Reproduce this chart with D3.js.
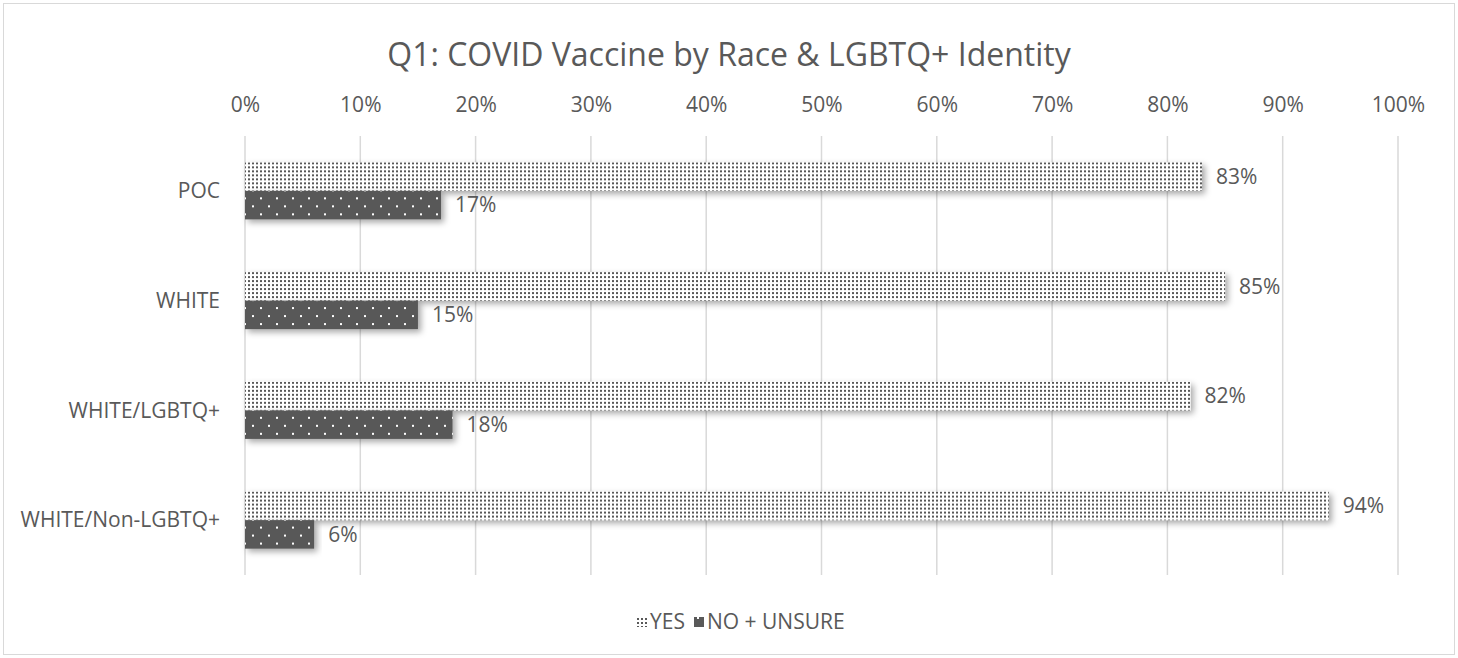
<!DOCTYPE html>
<html>
<head>
<meta charset="utf-8">
<script src="https://cdn.jsdelivr.net/npm/d3@7"></script>
<style>
  body { margin: 0; background: #fff; }
  text { font-family: "Open Sans", "Noto Sans", sans-serif; fill: #595959; }
</style>
</head>
<body>
<div id="chart"></div>
<script>
(function () {

// data
var categories = ["POC", "WHITE", "WHITE/LGBTQ+", "WHITE/Non-LGBTQ+"];
var seriesNames = ["YES", "NO + UNSURE"];
var yesValues = [0.83, 0.85, 0.82, 0.94];
var noValues = [0.17, 0.15, 0.18, 0.06];
var xTicks = [0, 0.1, 0.2, 0.3, 0.4, 0.5, 0.6, 0.7, 0.8, 0.9, 1.0];

var width = 1458, height = 658;

var svg = d3.select("#chart").append("svg")
    .attr("width", width)
    .attr("height", height);

var defs = svg.append("defs");

// dotted fill for YES
var pYes = defs.append("pattern")
    .attr("id", "patYes")
    .attr("patternUnits", "userSpaceOnUse")
    .attr("width", 4).attr("height", 4);
pYes.append("rect").attr("width", 4).attr("height", 4).attr("fill", "#fff");
pYes.append("rect").attr("width", 2).attr("height", 2).attr("fill", "#595959");

// dark fill with white dots for NO
var pNo = defs.append("pattern")
    .attr("id", "patNo")
    .attr("patternUnits", "userSpaceOnUse")
    .attr("width", 16).attr("height", 16);
pNo.append("rect").attr("width", 16).attr("height", 16).attr("fill", "#595959");
pNo.append("rect").attr("x", 4).attr("y", 3).attr("width", 2).attr("height", 2).attr("fill", "#fff");
pNo.append("rect").attr("x", 12).attr("y", 11).attr("width", 2).attr("height", 2).attr("fill", "#fff");

var shadow = defs.append("filter")
    .attr("id", "shadow")
    .attr("x", "-5%").attr("y", "-30%")
    .attr("width", "115%").attr("height", "190%");
shadow.append("feDropShadow")
    .attr("dx", 3).attr("dy", 3)
    .attr("stdDeviation", 3)
    .attr("flood-color", "#000")
    .attr("flood-opacity", 0.35);

// chart border
svg.append("rect")
    .attr("x", 3.5).attr("y", 3.5)
    .attr("width", width - 7).attr("height", height - 7)
    .attr("fill", "#fff")
    .attr("stroke", "#d9d9d9");

svg.append("text")
    .attr("x", 729).attr("y", 66)
    .attr("text-anchor", "middle")
    .style("font-size", "32px")
    .text("Q1: COVID Vaccine by Race & LGBTQ+ Identity");

var x = d3.scaleLinear().domain([0, 1]).range([245, 1398]);

var y = d3.scaleBand()
    .domain(categories)
    .range([136, 575])
    .paddingInner(0.48)
    .paddingOuter(0.24);

var y1 = d3.scaleBand()
    .domain(seriesNames)
    .range([0, y.bandwidth()]);

// gridlines
svg.append("g").selectAll("line")
    .data(xTicks)
    .enter().append("line")
    .attr("x1", function(d) { return x(d); })
    .attr("x2", function(d) { return x(d); })
    .attr("y1", 136).attr("y2", 575)
    .attr("stroke", "#d9d9d9")
    .attr("stroke-width", 1.5);

// top axis labels
var xAxis = svg.append("g")
    .attr("transform", "translate(0,112)")
    .call(d3.axisTop(x).tickValues(xTicks).tickFormat(d3.format(".0%")).tickSize(0).tickPadding(0));
xAxis.select(".domain").remove();
xAxis.selectAll("text")
    .attr("dy", 0)
    .style("font-size", "21px")
    .style("font-family", "'Open Sans', sans-serif")
    .attr("fill", "#595959");

// category labels
svg.append("g").selectAll("text")
    .data(categories)
    .enter().append("text")
    .attr("x", 220)
    .attr("y", function(d) { return y(d) + y.bandwidth() / 2; })
    .attr("dy", "0.35em")
    .attr("text-anchor", "end")
    .style("font-size", "21px")
    .text(function(d) { return d; });

var rows = categories.map(function(c, i) {
  return { cat: c, values: [
    { key: "YES", value: yesValues[i], fill: "url(#patYes)" },
    { key: "NO + UNSURE", value: noValues[i], fill: "url(#patNo)" }
  ]};
});

var groups = svg.append("g").selectAll("g")
    .data(rows)
    .enter().append("g")
    .attr("transform", function(d) { return "translate(0," + y(d.cat) + ")"; });

groups.selectAll("rect")
    .data(function(d) { return d.values; })
    .enter().append("rect")
    .attr("x", x(0))
    .attr("y", function(d) { return y1(d.key); })
    .attr("width", function(d) { return x(d.value) - x(0); })
    .attr("height", y1.bandwidth())
    .attr("fill", function(d) { return d.fill; })
    .attr("filter", "url(#shadow)");

groups.selectAll("text")
    .data(function(d) { return d.values; })
    .enter().append("text")
    .attr("x", function(d) { return x(d.value) + 14; })
    .attr("y", function(d) { return y1(d.key) + y1.bandwidth() / 2; })
    .attr("dy", "0.35em")
    .style("font-size", "21px")
    .text(function(d) { return d3.format(".0%")(d.value); });

// legend
var legend = svg.append("g").attr("transform", "translate(637,622)");
var legendItems = [
  { name: seriesNames[0], fill: "url(#patYes)", x: 0 },
  { name: seriesNames[1], fill: "url(#patNo)", x: 57 }
];
legendItems.forEach(function(d) {
  legend.append("rect")
    .attr("x", d.x).attr("y", -5)
    .attr("width", 10).attr("height", 10)
    .attr("fill", d.fill);
  legend.append("text")
    .attr("x", d.x + 13).attr("y", 0)
    .attr("dy", "0.35em")
    .style("font-size", "21px")
    .text(d.name);
});

})();
</script>
</body>
</html>
